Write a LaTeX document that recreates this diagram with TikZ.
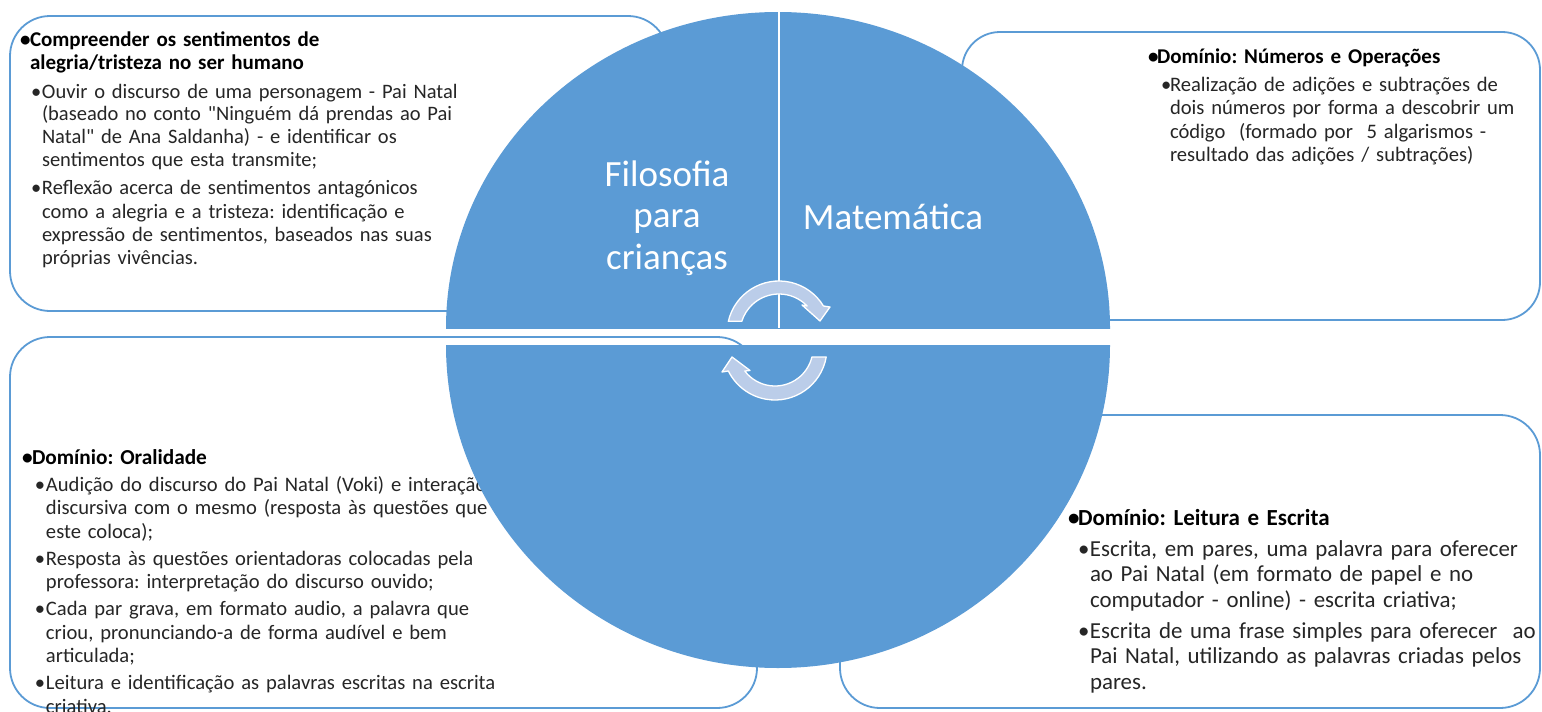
\documentclass[tikz,border=0pt]{standalone}
\usepackage{fontspec}
\defaultfontfeatures[\rmfamily]{}
\setmainfont{Carlito}
\frenchspacing
\definecolor{circblue}{RGB}{91,155,213}
\definecolor{boxblue}{RGB}{91,155,213}
\definecolor{arrowfill}{RGB}{187,205,233}
\definecolor{bodytext}{RGB}{38,38,38}
% heading item: #1 bullet box width, #2 font size, #3 text
\newcommand\hitem[3]{\par\hangindent=#1\hangafter=1\noindent{\fontsize{#2}{#2}\selectfont\bfseries\color{black}\makebox[#1][l]{\rule{0pt}{22pt}•}#3}}
% sub item: #1 offset, #2 bullet box width, #3 text
\newcommand\sitem[3]{\par\hangindent=\dimexpr#1+#2\relax\hangafter=1\noindent\hspace*{#1}\makebox[#2][l]{•}#3}
\tikzset{
  boxst/.style={draw=boxblue, line width=1.8pt, fill=white, rounded corners=40pt},
  txtst/.style={anchor=north west, inner sep=0pt, outer sep=0pt, align=left, text=bodytext},
  circst/.style={fill=circblue},
  arrowst/.style={fill=arrowfill, draw=white, line width=1.3pt, line join=round},
  lblst/.style={text=white, inner sep=0pt, outer sep=0pt}
}
\begin{document}
\begin{tikzpicture}[x=1pt,y=-1pt]
\useasboundingbox[fill=white] (0,0) rectangle (1542,712);
% boxes
\draw[boxst] (10,16) rectangle (668,311);
\draw[boxst, rounded corners=38pt] (962,32) rectangle (1540,320);
\draw[boxst] (10,337) rectangle (757,708);
\draw[boxst] (840,415) rectangle (1540,708);
% texts
\node[txtst, text width=640pt, font={\fontsize{20.5}{23}\selectfont\setlength{\parskip}{5pt}}] (tltext) at (20,19) {%
\hitem{10pt}{21}{Compreender os sentimentos de\newline alegria/tristeza no ser humano}%
\sitem{11pt}{11pt}{Ouvir o discurso de uma personagem - Pai Natal\newline (baseado no conto "Ninguém dá prendas ao Pai\newline Natal" de Ana Saldanha) - e identificar os\newline sentimentos que esta transmite;}%
\sitem{11pt}{11pt}{Reflexão acerca de sentimentos antagónicos\newline como a alegria e a tristeza: identificação e\newline expressão de sentimentos, baseados nas suas\newline próprias vivências.}\par};
\node[txtst, text width=420pt, font={\fontsize{20.6}{23.5}\selectfont\setlength{\parskip}{4.5pt}}] (trtext) at (1148,35) {%
\hitem{9pt}{21}{Domínio: Números e Operações}%
\sitem{13pt}{9pt}{Realização de adições e subtrações de\newline dois números por forma a descobrir um\newline código\ \ (formado por\ \ 5 algarismos -\newline resultado das adições / subtrações)}\par};
\node[txtst, text width=740pt, font={\fontsize{20.6}{23.5}\selectfont\setlength{\parskip}{3.5pt}}] (bltext) at (22,437) {%
\hitem{10pt}{21.3}{Domínio: Oralidade}%
\sitem{13pt}{11pt}{Audição do discurso do Pai Natal (Voki) e interação\newline discursiva com o mesmo (resposta às questões que\newline este coloca);}%
\sitem{13pt}{11pt}{Resposta às questões orientadoras colocadas pela\newline professora: interpretação do discurso ouvido;}%
\sitem{13pt}{11pt}{Cada par grava, em formato audio, a palavra que\newline criou, pronunciando-a de forma audível e bem\newline articulada;}%
\sitem{13pt}{11pt}{Leitura e identificação as palavras escritas na escrita\newline criativa.}\par};
\node[txtst, text width=480pt, font={\fontsize{22.9}{25.5}\selectfont\setlength{\parskip}{5.5pt}}] (brtext) at (1068,494) {%
\hitem{10pt}{23}{Domínio: Leitura e Escrita}%
\sitem{10pt}{12pt}{Escrita, em pares, uma palavra para oferecer\newline ao Pai Natal (em formato de papel e no\newline computador - online) - escrita criativa;}%
\sitem{10pt}{12pt}{Escrita de uma frase simples para oferecer\ \ ao\newline Pai Natal, utilizando as palavras criadas pelos\newline pares.}\par};
% circle halves
\begin{scope}
  \clip (400,0) rectangle (1160,328);
  \fill[circst] (778,328) ellipse [x radius=332pt, y radius=316pt];
\end{scope}
\begin{scope}
  \clip (400,345) rectangle (1160,712);
  \fill[circst] (778,345) ellipse [x radius=332pt, y radius=323pt];
\end{scope}
\draw[white, line width=2pt] (779,5) -- (779,328);
% circular arrows
\begin{scope}[shift={(779,333)}, x=1pt, y=1pt]
  \filldraw[arrowst] (167:52) arc[start angle=167, end angle=31.3, radius=52] -- (51,26) -- (41,12) -- (23,28) -- (43.8:39) arc[start angle=43.8, end angle=162.5, radius=39] -- cycle;
\end{scope}
\begin{scope}[shift={(775,348)}, x=1pt, y=1pt]
  \filldraw[arrowst] (-10:52) arc[start angle=-10, end angle=-153.8, radius=52] -- (-53,-24) -- (-43,-9) -- (-25,-22.5) -- (-142.7:38) arc[start angle=-142.7, end angle=-13.7, radius=38] -- cycle;
\end{scope}
% labels
\node[lblst, font={\fontsize{37}{41.5}\selectfont}, align=center, text width=220pt, anchor=north] (filo) at (667,153) {\rule{0pt}{33pt}Filosofia\\para\\crianças};
\node[lblst, font={\fontsize{37}{41.5}\selectfont}, anchor=base] (mat) at (893,229) {Matemática};
\end{tikzpicture}
\end{document}
